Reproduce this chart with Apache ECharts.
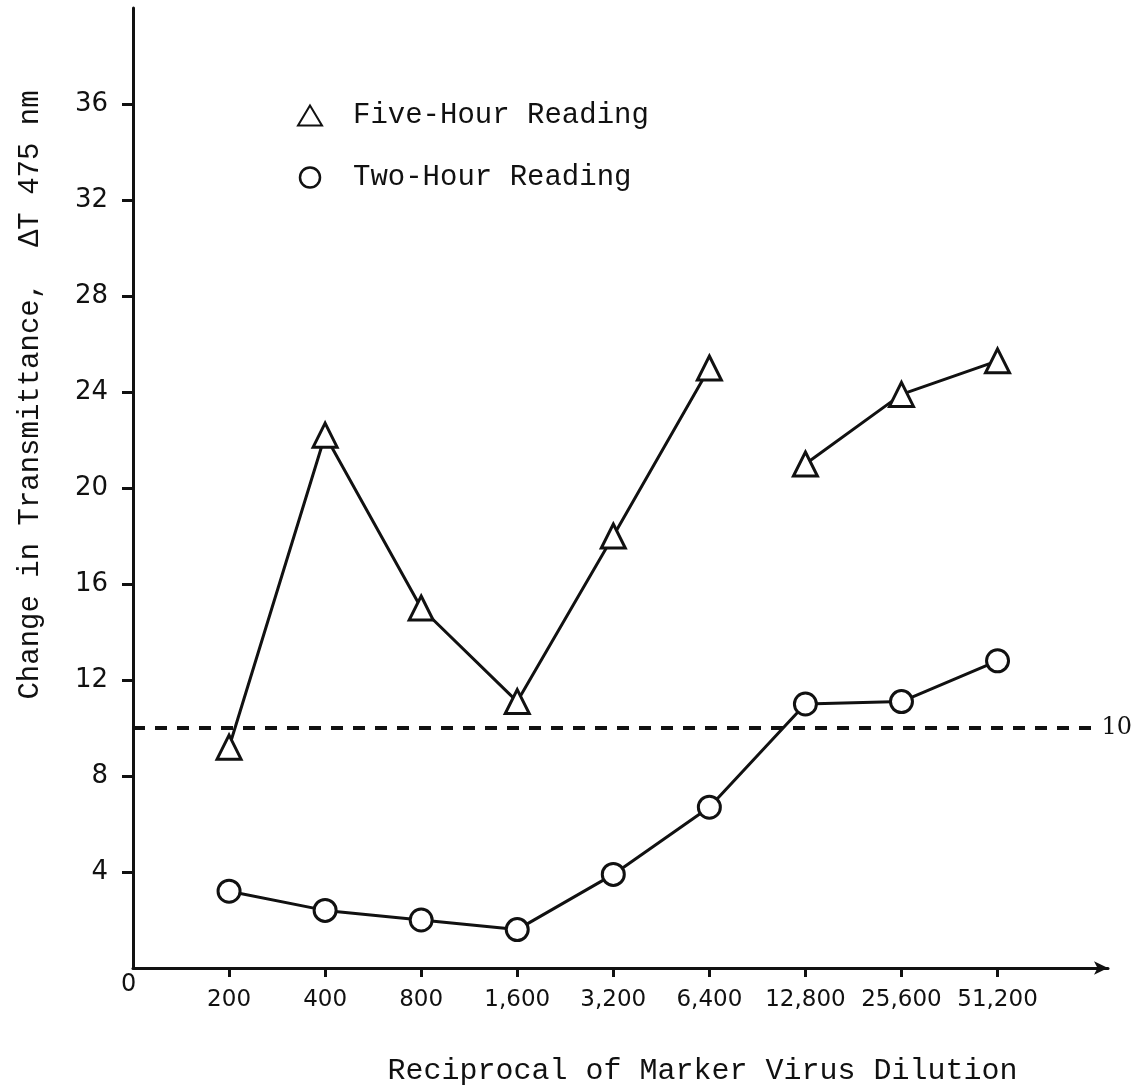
<!DOCTYPE html>
<html>
<head>
<meta charset="utf-8">
<script src="https://cdn.jsdelivr.net/npm/echarts@6/dist/echarts.min.js"></script>
<style>
html,body{margin:0;padding:0;background:#fff;}
#chart{width:1136px;height:1091px;}
</style>
</head>
<body>
<div id="chart"></div>
<script>
// ---- data ----
const categories = ['200', '400', '800', '1,600', '3,200', '6,400', '12,800', '25,600', '51,200'];
const fiveHour = [9.2, 22.2, 15.0, 11.1, 18.0, 25.0, 21.0, 23.9, 25.3];
const twoHour = [3.2, 2.4, 2.0, 1.6, 3.9, 6.7, 11.0, 11.1, 12.8];
const fiveHourBreakAfter = 5; // no line drawn between 6,400 and 12,800
const thresholdValue = 10;
const yTicks = [4, 8, 12, 16, 20, 24, 28, 32, 36];

const TEXT_FONT = '"Liberation Mono", monospace';
const NUM_FONT = '"DejaVu Sans", sans-serif';

const xs = categories.map((c, i) => i + 1);
const toPts = (arr, from, to) => arr.map((v, i) => (i >= from && i <= to) ? [i + 1, v] : null).filter(p => p);

const symStyle = { color: '#fff', borderColor: '#111', borderWidth: 3 };

const chart = echarts.init(document.getElementById('chart'), null, { renderer: 'canvas' });
chart.setOption({
  animation: false,
  backgroundColor: '#fff',
  grid: { left: 133, right: 28, top: 8, bottom: 121, containLabel: false },
  legend: {
    orient: 'vertical',
    left: 292,
    top: 96,
    itemGap: 33,
    itemWidth: 24,
    itemHeight: 20,
    data: [
      { name: 'Five-Hour Reading', icon: 'triangle', itemStyle: { color: '#fff', borderColor: '#111', borderWidth: 2 } },
      { name: 'Two-Hour Reading', icon: 'circle', itemStyle: { color: '#fff', borderColor: '#111', borderWidth: 2.5 } }
    ],
    textStyle: { fontFamily: TEXT_FONT, fontSize: 29, color: '#111', padding: [0, 0, 0, 26] }
  },
  xAxis: {
    type: 'value',
    min: 0,
    max: 10.15,
    interval: 1,
    splitLine: { show: false },
    axisLine: { show: true, lineStyle: { color: '#111', width: 3 }, symbol: ['none', 'arrow'], symbolSize: [10, 14] },
    axisTick: { show: true, customValues: xs, length: 9, lineStyle: { color: '#111', width: 3 } },
    axisLabel: {
      customValues: xs,
      formatter: v => categories[Math.round(v) - 1] || '',
      fontFamily: NUM_FONT, fontSize: 23, color: '#111', margin: 21
    },
    name: 'Reciprocal of Marker Virus Dilution',
    nameLocation: 'middle',
    nameGap: 88,
    nameTextStyle: { fontFamily: TEXT_FONT, fontSize: 30, color: '#111', padding: [0, 0, 0, 164] }
  },
  yAxis: {
    type: 'value',
    min: 0,
    max: 40,
    interval: 4,
    splitLine: { show: false },
    axisLine: { show: true, lineStyle: { color: '#111', width: 3 } },
    axisTick: { show: true, customValues: yTicks, length: 11, lineStyle: { color: '#111', width: 3 } },
    axisLabel: {
      customValues: yTicks,
      fontFamily: NUM_FONT, fontSize: 26, color: '#111', margin: 25
    }
  },
  graphic: [
    { type: 'text', left: 121, top: 973, style: { text: '0', font: '24px "DejaVu Sans", sans-serif', fill: '#111' } },
    { type: 'text', x: 30, y: 395, rotation: Math.PI / 2,
      style: { text: 'Change in Transmittance,  \u0394T 475 nm', font: '29px "Liberation Mono", monospace', fill: '#111', align: 'center', verticalAlign: 'middle' } }
  ],
  series: [
    {
      name: 'Five-Hour Reading', type: 'line',
      data: toPts(fiveHour, 0, fiveHourBreakAfter),
      symbol: 'triangle', symbolSize: 24, itemStyle: symStyle,
      lineStyle: { color: '#111', width: 3 }, z: 3,
      markLine: {
        silent: true, symbol: 'none',
        lineStyle: { color: '#111', width: 4, type: [12, 10] },
        label: { show: true, position: 'end', formatter: String(thresholdValue), fontFamily: '"DejaVu Serif", serif', fontSize: 24, color: '#111', distance: 8 },
        data: [[{ coord: [0, thresholdValue] }, { coord: [10, thresholdValue] }]]
      }
    },
    {
      name: 'Five-Hour Reading', type: 'line',
      data: toPts(fiveHour, fiveHourBreakAfter + 1, fiveHour.length - 1),
      symbol: 'triangle', symbolSize: 24, itemStyle: symStyle,
      lineStyle: { color: '#111', width: 3 }, z: 3
    },
    {
      name: 'Two-Hour Reading', type: 'line',
      data: toPts(twoHour, 0, twoHour.length - 1),
      symbol: 'circle', symbolSize: 22, itemStyle: symStyle,
      lineStyle: { color: '#111', width: 3 }, z: 3
    }
  ]
});
</script>
</body>
</html>
